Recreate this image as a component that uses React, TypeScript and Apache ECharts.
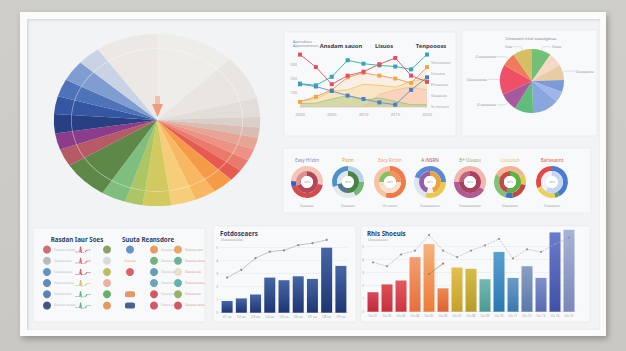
import React, { useEffect, useRef } from "react";
import * as echarts from "echarts";

const FONT = "'Noto Sans', 'Open Sans', 'DejaVu Sans', sans-serif";

// ---- big pie (values are angular shares, clockwise from upper-left) ----
const bigPieValues = [35, 45, 30, 13, 7, 7, 8, 8, 8, 8, 12, 12, 14, 16, 10, 14, 26, 12, 11, 13, 12, 12, 14, 13];
const bigPieColors = ['#ecE9e4', '#efede9', '#e9e6e1', '#e1ddd8', '#dacfc9', '#d9bdb3', '#e6a597', '#ec9385', '#ea7b6c', '#e65a52', '#f59b48', '#f8b862', '#f6cd78', '#d2ca60', '#acc665', '#80be7d', '#5d8848', '#b65a66', '#8b3d8c', '#283f82', '#3556a2', '#4f73b9', '#7f9dd0', '#c9d3e6'];

// ---- line chart ----
const lineYears = ['2000', '2003', '2005', '2008', '2010', '2013', '2015', '2018', '2020'];
const lineLeftLabels = ['', '100', '250', '500', ''];
const lineRightLabels = ['Vs mnuuo', 'Guaauus', 'Pnsaauus', 'Unuuoe', 'Vnsceuuoe'];
const lineTeal = [41, 38, 53, 82, 76, 73, 71, 66, 92];
const lineRed = [92, 70, 40, 55, 62, 75, 86, 55, 44];
const lineOrange = [9, 18, 30, 52, 60, 55, 50, 42, 70];
const lineBlue = [40, 36, 28, 20, 14, 8, 4, 30, 52];
const areaYellow = [10, 14, 28, 30, 40, 38, 35, 45, 50];
const areaGreen = [6, 7, 14, 20, 12, 16, 10, 4, 4];
const areaPink = [0, 0, 0, 0, 0, 22, 30, 35, 30];

// ---- top-right pie ----
const smallPieValues = [35, 25, 28, 22, 20, 48, 34, 33, 55, 25, 35];
const smallPieColors = ['#72c075', '#f6d8c6', '#e9cba4', '#7c9bd4', '#9fb6e8', '#89a6df', '#5fbc7a', '#a65a9c', '#ef5068', '#f07a5c', '#d6be62'];
const smallPieNames = ['Uuuu', '', 'Uuuouuou', '', '', '', '', 'U.uuouuuu', 'Uuouuuouu', 'U.uuouuueu', 'Uuu'];

// ---- donut row ----
const donutCenters = [307, 348, 390, 430, 470, 510, 552];
const donutTitles = ["Easy Hi'stin", 'Pisnn', 'Eacy Rirbln', 'A iNSRN', 'B+ Uuuou', 'Liuuuiun', 'Balrasasnt'];
const donutTitleColors = ['#7d8db0', '#d9a030', '#f09a6a', '#b05070', '#8aa860', '#e3bd5a', '#e05a4a'];
const donutFooters = ['Uuauuuo', 'Uuauuuo', 'Uu uuuuo', 'Uuauuuuuuo', 'Uuuuauuuuuo', 'Uuauuuuo', 'Uuauuuuo'];
const donutOuterValues = [[28, 42, 6, 24], [25, 17, 28, 30], [55, 45], [25, 30, 25, 20], [33, 42, 25], [17, 11, 19, 8, 28, 17], [42, 5, 22, 31]];
const donutOuterColors = [
  ['#f3c6b6', '#d54a4c', '#3c60c2', '#f3c6b6'],
  ['#b9d1ea', '#74b874', '#e7e8ea', '#4b93ca'],
  ['#ef7b4a', '#f8c3a4'],
  ['#5a89d8', '#e9c952', '#dde5f1', '#5a89d8'],
  ['#f2b6aa', '#b25a93', '#f2b6aa'],
  ['#f4b392', '#e9c952', '#c84343', '#4272c2', '#83c273', '#f4b392'],
  ['#4b7ad2', '#62a462', '#e9d263', '#e24a4a'],
];
const donutInnerValues = [[70, 30], [50, 22, 28], [25, 50, 25], [45, 10, 45], [75, 25], [55, 45], [60, 40]];
const donutInnerColors = [
  ['#b3475a', '#dc8f95'],
  ['#4a8348', '#4d7a92', '#dfe6ea'],
  ['#f0935f', '#f9e1d1', '#84c162'],
  ['#e9a33f', '#f2f2f2', '#9462ab'],
  ['#a9425f', '#c26080'],
  ['#5fb143', '#c44a4a'],
  ['#c6d7f1', '#eef1f6'],
];

// ---- bottom-middle bars ----
const midCats = ['U1 uu', 'U2 uu', 'U3 uu', 'U4 uu', 'U5 uu', 'U6 uu', 'U7 uu', 'U8 uu', 'U9 uu'];
const midBars = [0.9, 1.1, 1.4, 2.7, 2.5, 2.8, 2.6, 5.0, 3.6];
const midLine = [2.7, 3.3, 4.2, 4.7, 4.8, 5.2, 5.35, 5.6, null];

// ---- bottom-right bars ----
const rightCats = ['Uu 01', 'Uu 02', 'Uu 03', 'Uu 04', 'Uu 05', 'Uu 06', 'Uu 07', 'Uu 08', 'Uu 09', 'Uu 10', 'Uu 11', 'Uu 12', 'Uu 13', 'Uu 14', 'Uu 15'];
const rightBars = [1.5, 2.1, 2.4, 4.2, 5.2, 1.8, 3.4, 3.3, 2.5, 4.6, 2.6, 3.5, 2.6, 6.1, 6.3];
const rightLine = [3.8, 3.5, 4.4, 4.7, 5.9, 4.7, 4.2, 4.7, 5.1, 5.6, 4.1, 4.8, 4.6, 5.2, 5.7];
const rightLine2 = [null, null, null, null, 2.9, 3.7, null, null, null, null, null, null, null, null, null];
const rightBarTop = ['#d94a58', '#dc5050', '#e05a5e', '#f3a070', '#f6b27a', '#ee8a55', '#e2c050', '#d6bd48', '#75b9b2', '#5aa0d0', '#6a9cc8', '#8aa0c4', '#8090cc', '#6a7ccc', '#a8b4d6'];
const rightBarBottom = ['#c0283a', '#c8303c', '#cc3440', '#e86c3c', '#ec7c38', '#e0602e', '#c8a028', '#b89a28', '#4a9a92', '#2a78b0', '#3a78b0', '#5a78a8', '#5a68b0', '#4050a8', '#7888b8'];

// ---- icon panels ----
const iconCols = ['c0', 'c1', 'c2', 'c3', 'c4', 'c5'];
const iconRows = ['r0', 'r1', 'r2', 'r3', 'r4', 'r5'];
const iconA0Colors = ['#c84a4a', '#a9a9b2', '#3b7bb3', '#3a6fb0', '#3068a9', '#1b2b62'];
const iconA0Labels = ['Uuuouu uuouu', 'Uuouuu uuo', 'Uuuouuu uu', 'Uuouu uuouu', 'Uuuouu uuo', 'Uuouuu uuouu'];
const iconA5Colors = ['#6b8b3f', '#d2d2d4', '#aeb036', '#e3a08e', '#3f9f44', '#e0823e'];
const sparkColors = ['#d04040', '#d04050', '#c83848', '#c8b040', '#3aa060', '#3aa060'];
const iconB0 = [['#3d7bb5', 'circle'], ['', ''], ['#d04040', 'circle'], ['', ''], ['#e08040', 'roundRect'], ['#1f3a7a', 'roundRect']];
const iconB2Colors = ['#e8823c', '#4fa060', '#3a88a8', '#4a90a8', '#c83040', '#c83048'];
const iconB4Colors = ['#e8903c', '#4aa080', '#e8d8b8', '#3aa0a0', '#7aa040', '#c83040'];
const iconB4Labels = ['Uuuouu uuo', 'Uuouuu uuou', 'Uuuouu uu', 'Uuouu uuouu', 'Uuuou uuo', 'Uuouuu uuou'];

function txt(x: number, y: number, text: string, size: number, color: string, bold = false, align = 'left') {
  return {
    type: 'text', x, y, z: 100,
    style: { text, fontSize: size, fill: color, fontFamily: FONT, fontWeight: bold ? 'bold' : 'normal', align, verticalAlign: 'middle' },
  };
}
function panel(x: number, y: number, w: number, h: number) {
  return { type: 'rect', z: 0, shape: { x, y, width: w, height: h, r: 1 }, style: { fill: '#f8f9fa', stroke: '#e4e6ea', lineWidth: 0.6 } };
}

export default function App() {
  const mainRef = useRef<HTMLDivElement>(null);
  const bigRef = useRef<HTMLDivElement>(null);

  useEffect(() => {
    const big = echarts.init(bigRef.current!, null, { renderer: 'svg' });
    big.setOption({
      animation: false,
      series: [
        {
          type: 'pie', center: ['50%', '50%'], radius: [0, 86], startAngle: 125, clockwise: true, silent: true,
          label: { show: false }, labelLine: { show: false },
          data: bigPieValues.map((v, i) => ({ value: v, name: 'b' + i, itemStyle: { color: bigPieColors[i] } })),
        },
        {
          type: 'pie', center: ['50%', '50%'], radius: [71, 71.7], silent: true, label: { show: false },
          data: [{ value: 1, itemStyle: { color: 'rgba(255,255,255,0.45)' } }],
        },
      ],
    });

    const chart = echarts.init(mainRef.current!, null, { renderer: 'svg' });
    const axisLbl = { fontSize: 3.6, color: '#a0a4ab', fontFamily: FONT };

    const donutSeries: any[] = [];
    donutCenters.forEach((cx, i) => {
      donutSeries.push({
        type: 'pie', center: [cx, 182], radius: [11, 16], startAngle: 90, silent: true, label: { show: false },
        data: donutOuterValues[i].map((v, j) => ({ value: v, itemStyle: { color: donutOuterColors[i][j] } })),
      });
      donutSeries.push({
        type: 'pie', center: [cx, 182], radius: [6, 11], startAngle: 90, silent: true, label: { show: false },
        data: donutInnerValues[i].map((v, j) => ({ value: v, itemStyle: { color: donutInnerColors[i][j] } })),
      });
      donutSeries.push({
        type: 'pie', center: [cx, 182], radius: [0, 6], silent: true,
        label: { show: true, position: 'center', formatter: '{b}', fontSize: 2.6, color: '#9a9a9a', fontFamily: FONT },
        data: [{ value: 1, name: 'sstrs', itemStyle: { color: '#ffffff' } }],
      });
    });

    const graphics: any[] = [
      panel(284, 32, 172, 104),
      panel(462, 30, 135, 106),
      panel(283, 148, 308, 65),
      panel(33, 228, 172, 94),
      panel(213, 226, 143, 96),
      panel(361, 226, 229, 96),
      { type: 'rect', z: 50, shape: { x: 155, y: 96, width: 5, height: 9 }, style: { fill: '#f5bfae' } },
      { type: 'polygon', z: 50, shape: { points: [[152, 104], [163, 104], [157.5, 117]] }, style: { fill: '#f09a80' } },
      txt(293, 41, 'Aprcsdsuu', 3.8, '#8a8f99'),
      txt(293, 45.5, 'Apacnsenesos', 3.8, '#8a8f99'),
      txt(341, 46, 'Ansdam sauon', 5.8, '#3a3f4a', true, 'center'),
      txt(384, 46, 'Lisuos', 5.8, '#3a3f4a', true, 'center'),
      txt(431, 46, 'Tenpoooss', 5.8, '#3a3f4a', true, 'center'),
      txt(531, 38, 'Uneaseni irtul seuutgieuu', 4.2, '#7a7f88', false, 'center'),
      txt(77, 239, 'Rasdan Iaur Soes', 6.2, '#2e3d5e', true, 'center'),
      txt(148, 239, 'Suuta Reansdore', 6.2, '#2e3d5e', true, 'center'),
      txt(220, 233.5, 'Fotdoseaers', 6.2, '#2e3d5e', true),
      txt(221, 239.5, 'Uuuouuuuuo', 3.5, '#9aa0aa'),
      txt(367, 233.5, 'Rhis Shoeuis', 6.2, '#2e3d5e', true),
      txt(368, 239.5, 'Uuuouuuuo', 3.5, '#9aa0aa'),
    ];
    donutCenters.forEach((cx, i) => {
      graphics.push(txt(cx, 160, donutTitles[i], 4.6, donutTitleColors[i], false, 'center'));
      graphics.push(txt(cx, 206, donutFooters[i], 3.2, '#9a9ea6', false, 'center'));
    });

    const gradBar = (top: string, bottom: string) =>
      new echarts.graphic.LinearGradient(0, 0, 0, 1, [{ offset: 0, color: top }, { offset: 1, color: bottom }]);

    chart.setOption({
      animation: false,
      textStyle: { fontFamily: FONT },
      graphic: graphics,
      grid: [
        { left: 300, top: 50, width: 127, height: 57, show: true, backgroundColor: '#eceef1', borderWidth: 0 },
        { left: 220, top: 221.7, width: 128, height: 91 },
        { left: 220, top: 247.7, width: 128, height: 65 },
        { left: 366, top: 220.7, width: 210, height: 91 },
        { left: 366, top: 246.7, width: 210, height: 65 },
        { left: 41, top: 244, width: 72, height: 67 },
        { left: 124, top: 244, width: 72, height: 67 },
        { left: 300, top: 62, width: 127, height: 44 },
      ],
      xAxis: [
        {
          gridIndex: 0, type: 'category', data: lineYears, boundaryGap: false,
          axisLine: { lineStyle: { color: '#d6d8dc', width: 0.5 } }, axisTick: { show: false },
          axisLabel: { ...axisLbl, fontSize: 4.2, interval: 1, margin: 5 },
        },
        { gridIndex: 1, type: 'category', data: midCats, show: false },
        {
          gridIndex: 2, type: 'category', data: midCats,
          axisLine: { lineStyle: { color: '#d8dadf', width: 0.5 } }, axisTick: { show: false },
          axisLabel: { ...axisLbl, fontSize: 3.2, margin: 2.5 },
        },
        { gridIndex: 3, type: 'category', data: rightCats, show: false },
        {
          gridIndex: 4, type: 'category', data: rightCats,
          axisLine: { lineStyle: { color: '#d8dadf', width: 0.5 } }, axisTick: { show: false },
          axisLabel: { ...axisLbl, fontSize: 3.2, margin: 2.5 },
        },
        { gridIndex: 5, type: 'category', data: iconCols, show: false },
        { gridIndex: 6, type: 'category', data: iconCols, show: false },
        { gridIndex: 7, type: 'category', data: lineYears, show: false },
      ],
      yAxis: [
        {
          gridIndex: 0, type: 'value', min: 0, max: 100, interval: 25,
          axisLine: { show: false }, axisTick: { show: false }, splitLine: { show: false },
          axisLabel: { ...axisLbl, fontSize: 4, margin: 3, formatter: (v: number) => lineLeftLabels[v / 25] },
        },
        {
          gridIndex: 7, type: 'value', min: 0, max: 100, interval: 25, position: 'right',
          axisLine: { show: false }, axisTick: { show: false }, splitLine: { show: false },
          axisLabel: { ...axisLbl, fontSize: 3.8, margin: 4, formatter: (v: number) => lineRightLabels[v / 25] },
        },
        { gridIndex: 1, type: 'value', min: 0, max: 7, show: false },
        {
          gridIndex: 2, type: 'value', min: 0, max: 5, interval: 1,
          axisLine: { show: false }, axisTick: { show: false },
          splitLine: { lineStyle: { color: '#e4e6ea', width: 0.5 } },
          axisLabel: { ...axisLbl, fontSize: 3.2, margin: 2 },
        },
        { gridIndex: 3, type: 'value', min: 0, max: 7, show: false },
        {
          gridIndex: 4, type: 'value', min: 0, max: 5, interval: 1,
          axisLine: { show: false }, axisTick: { show: false },
          splitLine: { lineStyle: { color: '#e4e6ea', width: 0.5 } },
          axisLabel: { ...axisLbl, fontSize: 3.2, margin: 2 },
        },
        { gridIndex: 5, type: 'category', data: iconRows, inverse: true, show: false },
        { gridIndex: 6, type: 'category', data: iconRows, inverse: true, show: false },
      ],
      series: [
        // --- line chart ---
        {
          type: 'line', xAxisIndex: 0, yAxisIndex: 0, data: areaYellow, symbol: 'none', silent: true,
          lineStyle: { color: '#f2c84a', width: 0.8 }, areaStyle: { color: 'rgba(246,206,110,0.45)' },
        },
        {
          type: 'line', xAxisIndex: 0, yAxisIndex: 0, data: areaPink, symbol: 'none', silent: true,
          lineStyle: { color: '#f2a9a9', width: 0.6 }, areaStyle: { color: 'rgba(245,170,170,0.45)' },
        },
        {
          type: 'line', xAxisIndex: 0, yAxisIndex: 0, data: areaGreen, symbol: 'none', silent: true,
          lineStyle: { color: '#7cc46a', width: 0.6 }, areaStyle: { color: 'rgba(124,196,106,0.5)' },
        },
        {
          type: 'line', xAxisIndex: 0, yAxisIndex: 0, data: lineOrange, symbol: 'rect', symbolSize: 4, silent: true,
          itemStyle: { color: '#f2a64a' }, lineStyle: { color: '#f2a060', width: 1 }, areaStyle: { color: 'rgba(248,205,160,0.3)' },
        },
        {
          type: 'line', xAxisIndex: 0, yAxisIndex: 0, data: lineBlue, symbol: 'rect', symbolSize: 4, silent: true,
          itemStyle: { color: '#4a7fc6' }, lineStyle: { color: '#6f98d2', width: 1 },
        },
        {
          type: 'line', xAxisIndex: 0, yAxisIndex: 0, data: lineTeal, symbol: 'rect', symbolSize: 4, silent: true,
          itemStyle: { color: '#3a9fc0' }, lineStyle: { color: '#3dbd9c', width: 1 },
        },
        {
          type: 'line', xAxisIndex: 0, yAxisIndex: 0, data: lineRed, symbol: 'rect', symbolSize: 4, silent: true,
          itemStyle: { color: '#e0505e' }, lineStyle: { color: '#e4606c', width: 1 },
        },
        // --- top-right pie ---
        {
          type: 'pie', center: [532, 81], radius: [0, 32], startAngle: 90, silent: true,
          label: { show: false, fontSize: 3.6, color: '#8a8f99', fontFamily: FONT, distanceToLabelLine: 1 },
          labelLine: { show: false, length: 4, length2: 8, lineStyle: { color: '#b8bcc4', width: 0.4 } },
          data: smallPieValues.map((v, i) => ({
            value: v, name: smallPieNames[i] || 's' + i,
            itemStyle: { color: smallPieColors[i] },
            label: { show: !!smallPieNames[i] }, labelLine: { show: !!smallPieNames[i] },
          })),
        },
        ...donutSeries,
        // --- bottom-middle bars ---
        {
          type: 'bar', xAxisIndex: 1, yAxisIndex: 2, data: midBars, barWidth: 11, silent: true,
          itemStyle: { color: gradBar('#4566a6', '#1e3572') },
        },
        {
          type: 'line', xAxisIndex: 1, yAxisIndex: 2, data: midLine, symbol: 'circle', symbolSize: 2, silent: true,
          itemStyle: { color: '#7d8596' }, lineStyle: { color: '#9aa1ae', width: 0.6 },
        },
        // --- bottom-right bars ---
        {
          type: 'bar', xAxisIndex: 3, yAxisIndex: 4, barWidth: 11, silent: true,
          data: rightBars.map((v, i) => ({ value: v, itemStyle: { color: gradBar(rightBarTop[i], rightBarBottom[i]) } })),
        },
        {
          type: 'line', xAxisIndex: 3, yAxisIndex: 4, data: rightLine, symbol: 'circle', symbolSize: 2, silent: true,
          itemStyle: { color: '#8a92a0' }, lineStyle: { color: '#a6adb8', width: 0.6, type: [2, 1] },
        },
        {
          type: 'line', xAxisIndex: 3, yAxisIndex: 4, data: rightLine2, symbol: 'circle', symbolSize: 2, silent: true,
          itemStyle: { color: '#b07040' }, lineStyle: { color: '#b88050', width: 0.7 },
        },
        // --- icon panel A ---
        {
          type: 'scatter', xAxisIndex: 5, yAxisIndex: 6, symbolSize: 8, silent: true,
          label: { show: true, position: 'right', distance: 3, formatter: '{b}', fontSize: 3, color: '#a0a4ab', fontFamily: FONT },
          data: iconA0Colors.map((c, i) => ({ value: [0, i], name: iconA0Labels[i], itemStyle: { color: c } })),
        },
        {
          type: 'scatter', xAxisIndex: 5, yAxisIndex: 6, symbolSize: [16, 6], silent: true,
          symbol: 'path://M0,8 L6,8 L7,0 L8,9 L13,8 L15,5 L20,5',
          data: sparkColors.map((c, i) => ({ value: [3, i], itemStyle: { color: 'none', borderColor: c, borderWidth: 0.7 } })),
        },
        {
          type: 'scatter', xAxisIndex: 5, yAxisIndex: 6, symbolSize: 8, silent: true,
          data: iconA5Colors.map((c, i) => ({ value: [5, i], itemStyle: { color: c } })),
        },
        // --- icon panel B ---
        {
          type: 'scatter', xAxisIndex: 6, yAxisIndex: 7, silent: true,
          data: iconB0.map((d, i) => ({
            value: [0, i], symbol: d[1] || 'circle', symbolSize: d[1] === 'roundRect' ? [10, 6] : d[0] ? 8 : 0,
            itemStyle: { color: d[0] || 'transparent' },
            label: d[0] ? { show: false } : { show: i === 1, formatter: 'Uuuouu', fontSize: 3, color: '#e0803c', position: 'inside' },
          })),
        },
        {
          type: 'scatter', xAxisIndex: 6, yAxisIndex: 7, symbolSize: 8, silent: true,
          label: { show: true, position: 'right', distance: 3, formatter: 'Uuouu uu', fontSize: 3, color: '#a0a4ab', fontFamily: FONT },
          data: iconB2Colors.map((c, i) => ({ value: [2, i], itemStyle: { color: c } })),
        },
        {
          type: 'scatter', xAxisIndex: 6, yAxisIndex: 7, symbolSize: 8, silent: true,
          label: { show: true, position: 'right', distance: 3, formatter: '{b}', fontSize: 3, color: '#c87060', fontFamily: FONT },
          data: iconB4Colors.map((c, i) => ({ value: [4, i], name: iconB4Labels[i], itemStyle: { color: c } })),
        },
      ],
    });

    return () => {
      chart.dispose();
      big.dispose();
    };
  }, []);

  return (
    <div style={{ position: 'fixed', left: 0, top: 0, width: 626, height: 351, overflow: 'hidden', background: 'linear-gradient(180deg,#cfcec9 0%,#c9c8c4 100%)' }}>
      <div style={{ position: 'absolute', left: 20, top: 12, width: 586, height: 324, background: '#fbfbfb', boxShadow: '2px 3px 6px rgba(0,0,0,0.28)' }} />
      <div style={{ position: 'absolute', left: 27, top: 19, width: 573, height: 311, background: '#f2f3f5', boxShadow: 'inset 1px 1px 3px rgba(0,0,0,0.14)' }} />
      <div ref={bigRef} style={{ position: 'absolute', left: 67, top: 30, width: 180, height: 180, transform: 'scaleX(1.2)' }} />
      <div ref={mainRef} style={{ position: 'absolute', left: 0, top: 0, width: 626, height: 351 }} />
    </div>
  );
}
